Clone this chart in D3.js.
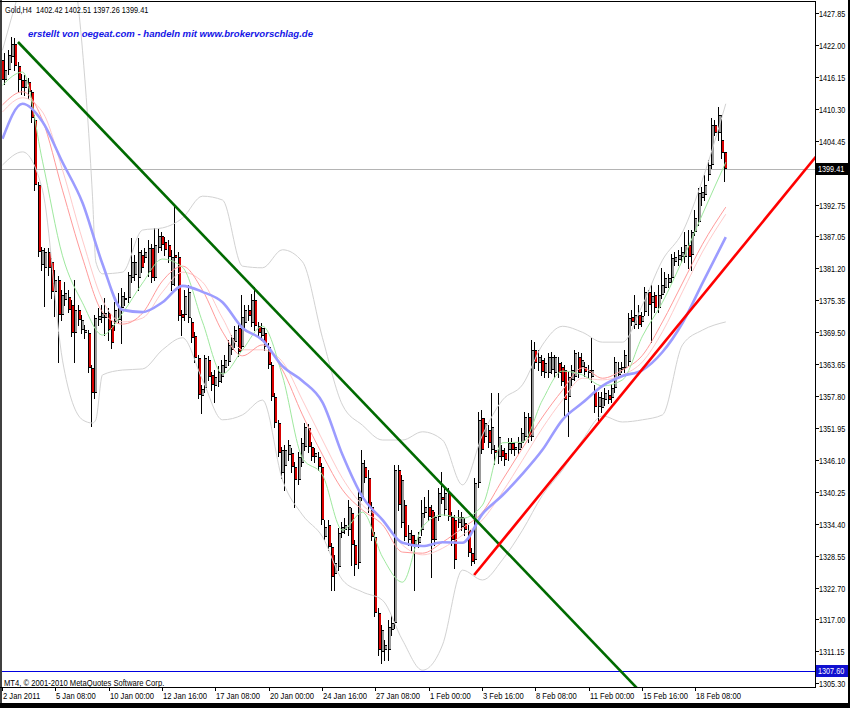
<!DOCTYPE html>
<html><head><meta charset="utf-8">
<script src="https://cdn.jsdelivr.net/npm/d3@7"></script>
<style>body{margin:0;background:#fff;}svg{display:block;}text{white-space:pre;}</style>
</head><body>
<svg id="c" width="850" height="708"></svg>
<script>
// ---------------- DATA (Gold H4, 2 Jan 2011 - 18 Feb 2011) ----------------
const open=[1419.3,1415.7,1417.5,1419.9,1422.2,1418.2,1415.7,1414.2,1415.3,1413.5,
1408.3,1396.4,1381.8,1381.3,1384.2,1382.4,1376.9,1379.1,1372.7,1375.4,
1376.0,1374.5,1369.4,1373.6,1369.9,1369.4,1369.4,1363.0,1358.4,1371.8,
1372.1,1372.1,1373.0,1370.8,1371.4,1371.8,1373.9,1375.4,1375.8,1379.4,
1380.0,1379.4,1383.6,1383.1,1380.5,1384.9,1379.4,1384.9,1387.1,1386.0,
1385.5,1378.2,1383.6,1383.3,1372.9,1372.7,1372.1,1371.4,1368.8,1364.8,
1357.9,1359.3,1364.4,1361.7,1359.7,1360.4,1361.3,1363.0,1364.1,1366.3,
1367.7,1370.3,1366.8,1371.2,1373.6,1371.2,1375.4,1370.6,1368.8,1369.4,
1366.8,1363.5,1357.7,1352.9,1343.8,1345.0,1347.1,1347.4,1344.9,1342.5,
1345.6,1348.5,1352.0,1348.5,1346.7,1346.7,1344.9,1332.0,1334.2,1330.2,
1325.3,1326.6,1332.8,1333.3,1333.3,1336.4,1330.6,1327.3,1339.4,1344.9,
1342.8,1337.5,1332.0,1318.1,1311.0,1311.4,1311.4,1315.0,1316.3,1344.3,
1334.6,1337.9,1331.5,1332.4,1330.6,1331.0,1333.3,1336.4,1337.5,1337.0,
1331.5,1335.7,1339.4,1337.0,1340.1,1335.7,1335.2,1334.6,1333.9,1334.6,
1333.3,1329.1,1327.8,1341.9,1353.8,1350.3,1351.6,1348.0,1348.0,1346.7,
1348.0,1347.4,1348.0,1349.2,1348.0,1348.0,1349.2,1350.4,1354.0,1350.4,
1366.3,1363.9,1364.4,1362.1,1362.1,1362.6,1362.1,1363.9,1363.1,1362.6,
1357.7,1360.8,1361.3,1365.0,1363.1,1363.1,1362.1,1361.3,1358.9,1355.8,
1355.6,1357.1,1358.0,1357.5,1359.3,1361.7,1362.6,1363.0,1364.1,1372.3,
1370.8,1372.7,1371.4,1373.2,1376.9,1374.9,1376.3,1373.9,1376.3,1377.6,
1378.5,1379.4,1382.4,1382.7,1383.3,1383.3,1385.5,1383.6,1387.8,1389.7,
1394.1,1394.6,1398.3,1400.1,1407.4,1406.0,1404.7,1402.42];
const high=[1420.2,1420.6,1421.1,1423.5,1423.3,1418.9,1416.7,1416.6,1416.0,1413.8,
1409.2,1397.0,1385.1,1384.9,1384.9,1383.1,1380.9,1379.8,1377.2,1378.7,
1377.2,1375.4,1379.1,1374.5,1372.7,1370.8,1369.9,1363.5,1372.7,1373.9,
1374.5,1375.8,1373.9,1371.8,1375.0,1376.7,1377.6,1376.9,1380.5,1386.7,
1383.6,1386.7,1384.6,1384.9,1386.4,1385.7,1388.6,1388.6,1387.8,1386.9,
1386.4,1384.6,1392.8,1384.2,1373.6,1377.2,1378.2,1372.1,1369.6,1365.3,
1359.9,1365.3,1365.2,1362.2,1362.6,1363.3,1364.4,1365.3,1368.1,1369.0,
1370.6,1371.4,1376.3,1374.5,1374.5,1376.5,1377.8,1371.4,1371.2,1370.3,
1367.5,1364.1,1358.4,1353.5,1348.5,1348.9,1349.8,1348.3,1345.8,1347.6,
1350.2,1352.9,1352.7,1349.4,1348.3,1347.6,1345.6,1335.2,1335.2,1331.0,
1328.8,1333.7,1334.8,1335.5,1338.8,1337.4,1331.5,1340.7,1348.0,1346.1,
1344.3,1338.4,1332.9,1319.1,1316.0,1313.2,1316.9,1317.8,1345.2,1345.2,
1343.4,1338.8,1334.2,1333.3,1332.4,1332.9,1338.8,1339.4,1340.6,1337.9,
1336.6,1341.0,1343.9,1341.0,1341.0,1336.6,1336.1,1337.0,1336.6,1335.5,
1334.2,1330.0,1342.8,1354.9,1355.3,1353.8,1352.5,1358.4,1348.9,1358.4,
1348.9,1348.3,1350.2,1350.2,1349.4,1350.4,1352.0,1354.9,1354.7,1368.1,
1367.7,1366.3,1365.3,1364.8,1365.7,1365.9,1365.3,1365.0,1364.1,1363.5,
1362.2,1363.5,1366.3,1365.9,1365.7,1364.1,1363.5,1368.5,1359.9,1358.6,
1358.6,1359.3,1358.9,1360.0,1365.0,1364.1,1364.1,1366.3,1373.0,1373.6,
1376.3,1374.5,1373.2,1377.8,1377.2,1378.2,1376.9,1378.2,1381.3,1380.5,
1380.2,1383.8,1384.2,1384.6,1385.1,1387.8,1388.2,1388.2,1391.9,1395.9,
1396.1,1398.3,1401.0,1408.7,1408.3,1410.7,1409.2,1402.51];
const low=[1414.2,1414.9,1416.7,1418.9,1417.5,1413.4,1413.1,1412.9,1412.4,1408.0,
1395.5,1383.5,1380.9,1374.3,1380.0,1375.8,1372.5,1364.1,1371.8,1374.5,
1373.2,1368.8,1364.1,1370.8,1369.4,1368.5,1362.2,1352.4,1357.5,1370.8,
1371.4,1369.0,1368.1,1366.6,1369.9,1371.2,1367.5,1374.5,1375.0,1378.7,
1379.1,1377.2,1380.5,1382.4,1379.8,1378.7,1379.1,1384.2,1384.6,1383.6,
1382.4,1377.2,1378.2,1371.8,1369.0,1371.8,1371.4,1367.7,1364.1,1357.5,
1354.7,1358.6,1360.8,1358.9,1356.8,1359.7,1360.4,1362.2,1363.5,1365.5,
1366.8,1365.2,1366.3,1370.5,1371.8,1370.6,1369.9,1368.7,1368.1,1366.3,
1363.0,1357.1,1352.2,1346.9,1342.9,1340.6,1346.1,1344.0,1337.5,1341.7,
1345.0,1348.0,1347.6,1346.1,1345.8,1344.3,1334.4,1331.5,1329.7,1322.4,
1322.4,1326.0,1332.1,1332.8,1332.4,1326.9,1325.1,1326.4,1338.8,1342.2,
1336.6,1331.5,1317.6,1310.5,1309.0,1309.6,1309.6,1314.1,1315.4,1337.0,
1333.9,1331.5,1330.6,1329.7,1322.4,1330.2,1332.4,1335.7,1335.2,1324.7,
1330.6,1335.2,1338.3,1336.1,1335.2,1330.6,1326.4,1333.9,1333.3,1332.4,
1328.6,1326.9,1327.3,1341.2,1347.4,1349.4,1348.5,1347.4,1345.4,1345.6,
1346.1,1345.2,1346.1,1347.4,1347.1,1347.4,1348.5,1349.8,1349.4,1349.8,
1363.0,1362.6,1361.7,1361.3,1361.3,1362.1,1361.3,1361.3,1359.9,1354.4,
1350.5,1359.9,1360.8,1361.3,1362.2,1361.5,1361.3,1360.4,1354.9,1353.5,
1354.9,1356.2,1356.6,1356.8,1358.6,1361.1,1362.2,1362.2,1363.5,1370.8,
1370.3,1370.3,1370.6,1372.7,1372.7,1367.7,1373.2,1373.2,1375.8,1376.9,
1377.8,1378.7,1381.8,1381.8,1382.4,1382.4,1381.3,1380.9,1387.3,1389.1,
1392.8,1393.7,1397.4,1399.5,1405.6,1404.7,1401.4,1397.26];
const close=[1415.7,1417.5,1420.2,1422.2,1418.2,1415.7,1414.2,1415.7,1413.5,1408.7,
1396.4,1384.2,1384.6,1384.2,1381.3,1376.9,1379.1,1372.7,1376.3,1376.7,
1373.5,1369.4,1373.6,1371.8,1371.8,1369.9,1363.0,1358.4,1372.1,1372.5,
1373.0,1373.0,1369.9,1367.5,1373.6,1374.1,1376.1,1375.8,1380.0,1382.4,
1382.4,1384.2,1381.3,1384.2,1384.9,1379.4,1385.5,1387.1,1385.5,1384.6,
1383.3,1383.3,1383.1,1372.5,1372.1,1376.1,1376.9,1368.5,1364.8,1358.0,
1359.1,1364.8,1361.3,1359.9,1361.3,1362.2,1363.5,1364.4,1367.2,1368.5,
1369.9,1365.9,1372.3,1373.6,1372.5,1375.4,1370.6,1369.4,1370.3,1366.8,
1363.5,1357.7,1352.9,1347.4,1348.0,1348.0,1348.9,1344.9,1342.5,1346.7,
1349.2,1352.2,1348.5,1346.7,1347.4,1344.9,1335.2,1333.9,1330.2,1324.7,
1327.3,1332.8,1333.9,1334.2,1337.5,1330.6,1326.9,1339.4,1345.6,1342.8,
1337.5,1332.0,1318.1,1311.4,1315.0,1312.3,1315.6,1316.3,1344.3,1337.9,
1342.5,1332.0,1332.8,1330.6,1331.5,1332.0,1336.4,1337.5,1335.7,1331.5,
1335.7,1340.1,1338.8,1340.1,1335.7,1331.5,1327.9,1335.7,1335.7,1333.3,
1329.1,1327.5,1341.9,1353.5,1348.0,1352.9,1349.2,1352.2,1347.4,1350.4,
1346.7,1346.1,1349.2,1348.0,1348.5,1349.2,1351.1,1354.0,1350.4,1366.3,
1363.9,1365.0,1362.2,1363.9,1365.0,1365.0,1365.0,1362.1,1360.4,1357.1,
1361.3,1362.6,1365.7,1362.1,1364.4,1362.2,1362.6,1362.6,1355.8,1357.7,
1357.5,1358.4,1357.1,1359.3,1364.1,1363.0,1363.1,1365.3,1372.1,1371.4,
1372.7,1370.8,1372.5,1376.9,1374.5,1376.1,1373.9,1376.3,1378.2,1379.4,
1379.4,1383.1,1383.3,1383.6,1384.2,1385.5,1383.3,1387.8,1390.4,1395.0,
1395.2,1396.4,1400.1,1407.4,1406.0,1409.2,1402.3,1399.41];

// indicator readings (bar index -> value)
const maIdx=[0,6,12,18,24,30,36,42,48,54,60,66,72,78,84,90,96,102,108,114,120,126,132,138,144,150,156,162,168,174,180,186,192,198,204,210,217];
const maFast=[1414.7,1417.1,1400.8,1383.5,1374.9,1369.0,1373.0,1378.5,1382.9,1381.4,1371.4,1361.9,1366.3,1370.6,1361.5,1346.5,1343.4,1333.3,1336.6,1328.4,1323.8,1333.9,1336.1,1335.5,1337.9,1349.3,1349.4,1357.1,1362.4,1361.7,1359.7,1360.8,1368.8,1375.0,1382.7,1391.1,1400.6];
const maMid=[1411.1,1413.5,1408.3,1395.5,1383.1,1373.2,1371.0,1373.0,1378.9,1381.6,1377.2,1369.6,1365.2,1367.2,1362.6,1354.4,1347.1,1340.7,1337.0,1334.3,1329.3,1329.1,1331.1,1333.7,1336.6,1342.5,1348.3,1354.0,1358.9,1363.0,1361.1,1362.6,1365.3,1371.4,1378.5,1385.6,1392.4];
const maMid2=[1409.8,1412.4,1409.8,1399.2,1386.4,1375.4,1371.4,1372.1,1376.9,1380.5,1378.7,1372.1,1366.3,1366.3,1364.1,1357.1,1349.8,1342.8,1337.9,1335.2,1330.6,1328.8,1330.0,1332.4,1335.2,1340.3,1346.1,1352.0,1357.1,1361.1,1360.8,1361.7,1364.1,1369.6,1376.9,1384.2,1391.1];
const maSlow=[1404.9,1411.3,1408.0,1400.6,1393.2,1382.0,1373.6,1373.2,1375.0,1378.0,1376.9,1375.0,1370.3,1368.1,1363.3,1360.6,1356.7,1347.1,1339.4,1335.2,1331.0,1330.4,1331.1,1331.0,1336.3,1339.7,1343.6,1348.0,1353.5,1356.6,1359.7,1361.5,1362.6,1365.9,1371.2,1378.5,1386.9];
const bbIdx=[0,6,12,18,24,27,28,30,36,42,48,54,60,66,72,78,84,90,96,102,108,114,120,126,132,138,144,150,156,162,168,174,180,186,192,198,204,210,217];
const bbUpper=[1421.1,1433.9,1444.9,1443.1,1421.1,1394.4,1382.4,1380.2,1380.5,1388.2,1388.6,1390.4,1394.4,1393.7,1381.6,1381.3,1384.6,1382.4,1368.5,1356.2,1352.5,1349.8,1349.8,1351.3,1349.8,1341.6,1350.7,1357.1,1359.9,1367.2,1370.6,1369.5,1367.7,1367.7,1374.5,1382.7,1387.8,1397.4,1411.3];
const bbLower=[1400.1,1402.5,1395.5,1364.4,1353.5,1352.9,1353.5,1361.7,1362.6,1362.8,1366.3,1368.5,1360.8,1353.5,1354.4,1357.1,1342.5,1336.1,1332.1,1324.2,1322.0,1320.5,1313.2,1307.7,1312.3,1326.0,1324.2,1327.9,1333.3,1339.7,1344.3,1349.8,1354.2,1353.1,1353.5,1354.4,1367.2,1369.9,1371.4];

// trend lines: [barIndex, price] anchors
const trendDown=[[4.65,1422.6],[119.25,1349.67]];
const trendUp=[[141.5,1325.1],[203,1371.0]];

const priceTicks=[1427.85,1422.00,1416.15,1410.30,1404.45,1398.60,1392.75,1387.05,1381.20,1375.35,1369.50,1363.65,1357.80,1351.95,1346.10,1340.25,1334.40,1328.55,1322.70,1317.00,1311.15,1305.30];
const timeIdx=[0,16,32,48,64,80,96,112,128,144,160,176,192,208];
const timeLabels=["2 Jan 2011","5 Jan 08:00","10 Jan 00:00","12 Jan 16:00","17 Jan 08:00","20 Jan 00:00","24 Jan 16:00","27 Jan 08:00","1 Feb 00:00","3 Feb 16:00","8 Feb 08:00","11 Feb 00:00","15 Feb 16:00","18 Feb 08:00"];
const lastPrice=1399.41;
const levelPrice=1307.60;
const header="Gold,H4  1402.42 1402.51 1397.26 1399.41";
const banner="erstellt von oegeat.com - handeln mit www.brokervorschlag.de";
const copyright="MT4, \u00A9 2001-2010 MetaQuotes Software Corp.";

// ---------------- DRAW ----------------
const W=850,H=708;
const P={l:2,t:2,r:815,b:687};
const FONT="'Liberation Sans', Arial, sans-serif";
const svg=d3.select('#c');
svg.append('rect').attr('width',W).attr('height',H).attr('fill','#fff');

const x=d3.scaleLinear().domain([0,16]).range([2.5,55.83]);
const y=d3.scaleLinear().domain([1305.30,1427.85]).range([683.3,13.3]);

svg.append('defs').append('clipPath').attr('id','clip')
  .append('rect').attr('x',P.l).attr('y',P.t).attr('width',P.r-P.l).attr('height',P.b-P.t);
const g=svg.append('g').attr('clip-path','url(#clip)');

// narrow text: horizontally scaled group so the drawn box is the real one
function ntext(parent,tx,ty,str,sx,fill,extra){
  const gg=parent.append('g').attr('transform',`translate(${tx},${ty}) scale(${sx},1)`);
  const t=gg.append('text').attr('x',0).attr('y',0).text(str)
    .attr('font-family',FONT).attr('font-size',9.3).attr('fill',fill);
  if(extra) extra(t);
  return t;
}

// horizontal lines (background)
g.append('line').attr('x1',P.l).attr('x2',P.r).attr('y1',Math.round(y(lastPrice))+0.5).attr('y2',Math.round(y(lastPrice))+0.5)
  .attr('stroke','#b4b4b4').attr('stroke-width',1);
g.append('line').attr('x1',P.l).attr('x2',P.r).attr('y1',Math.round(y(levelPrice))+0.5).attr('y2',Math.round(y(levelPrice))+0.5)
  .attr('stroke','#0000e0').attr('stroke-width',1);

// candles
const bars=d3.range(open.length).map(i=>({i,o:open[i],h:high[i],l:low[i],c:close[i]}));
const cg=g.append('g');
bars.forEach(d=>{
  const left=Math.round(x(d.i)-1.5);
  const top=Math.round(y(Math.max(d.o,d.c)));
  const bot=Math.round(y(Math.min(d.o,d.c)));
  const h=Math.max(1,bot-top);
  const bull=d.c>=d.o;
  cg.append('rect').attr('x',left).attr('y',top).attr('width',3).attr('height',h)
    .attr('fill',bull?'#9a9a9a':'#d80000');
  cg.append('rect').attr('x',left).attr('y',top).attr('width',3).attr('height',1).attr('fill','#000');
  if(h>1) cg.append('rect').attr('x',left).attr('y',top+h-1).attr('width',3).attr('height',1).attr('fill','#000');
  cg.append('line').attr('x1',left+0.5).attr('x2',left+0.5)
    .attr('y1',Math.round(y(d.h))).attr('y2',Math.round(y(d.l))+1)
    .attr('stroke','#000').attr('stroke-width',1);
});

// indicators
function drawLine(idx,vals,color,width){
  const pts=idx.map((k,j)=>[x(k),y(vals[j])]);
  g.append('path').attr('d',d3.line().curve(d3.curveMonotoneX)(pts))
    .attr('fill','none').attr('stroke',color).attr('stroke-width',width);
}
drawLine(bbIdx,bbUpper,'#d2d2d2',1);
drawLine(bbIdx,bbLower,'#d2d2d2',1);
drawLine(maIdx,maMid2,'#ffcaca',1);
drawLine(maIdx,maMid,'#ff9a9a',1);
drawLine(maIdx,maFast,'#9ee89e',1);
drawLine(maIdx,maSlow,'#9c9cff',2.6);

// trend lines (rays)
function ray(a,color){
  const s=(a[1][1]-a[0][1])/(a[1][0]-a[0][0]);
  const far=400;
  g.append('line').attr('x1',x(a[0][0])).attr('y1',y(a[0][1]))
    .attr('x2',x(far)).attr('y2',y(a[0][1]+s*(far-a[0][0])))
    .attr('stroke',color).attr('stroke-width',2.6);
}
ray(trendDown,'#006a00');
ray(trendUp,'#ff0000');

// frame
svg.append('rect').attr('x',0).attr('y',0).attr('width',2).attr('height',703).attr('fill','#404040');
svg.append('line').attr('x1',0).attr('x2',P.r+1).attr('y1',1.5).attr('y2',1.5).attr('stroke','#000');
svg.append('line').attr('x1',P.r+0.5).attr('x2',P.r+0.5).attr('y1',1).attr('y2',P.b+1).attr('stroke','#000');
svg.append('line').attr('x1',0).attr('x2',P.r+1).attr('y1',P.b+0.5).attr('y2',P.b+0.5).attr('stroke','#000');
svg.append('rect').attr('x',848).attr('y',0).attr('width',2).attr('height',H).attr('fill','#000');
svg.append('rect').attr('x',0).attr('y',703).attr('width',W).attr('height',5).attr('fill','#000');

// price axis (the tick hidden behind the last-price box keeps only its mark)
const ax=svg.append('g');
priceTicks.forEach(v=>{
  const yy=Math.round(y(v))+0.5;
  ax.append('line').attr('x1',P.r+1).attr('x2',P.r+4).attr('y1',yy).attr('y2',yy).attr('stroke','#000');
  if(Math.abs(y(v)-y(lastPrice))<10) return;
  ntext(ax,819,y(v)+3.4,v.toFixed(2),0.78,'#000');
});

// price boxes
function box(v,fill){
  const yc=y(v);
  svg.append('rect').attr('x',816).attr('y',Math.round(yc)-6).attr('width',32).attr('height',12).attr('fill',fill);
  ntext(svg,818,yc+3.4,v.toFixed(2),0.78,'#fff');
}
box(lastPrice,'#000');
box(levelPrice,'#1010d0');

// time axis
const tx=svg.append('g');
timeIdx.forEach((k,j)=>{
  const xx=Math.round(x(k)-0.5)+0.5;
  tx.append('line').attr('x1',xx).attr('x2',xx).attr('y1',P.b).attr('y2',P.b+4).attr('stroke','#000');
  ntext(tx,xx+0.5,698.5,timeLabels[j],0.82,'#000');
});

// texts
ntext(svg,5,12.7,header,0.79,'#000');
svg.append('text').attr('x',28).attr('y',37.3).text(banner)
  .attr('font-family',FONT).attr('font-size',9.5).attr('font-weight','bold').attr('font-style','italic')
  .attr('fill','#1414e6').attr('textLength',285).attr('lengthAdjust','spacingAndGlyphs');
ntext(svg,4,685.5,copyright,0.82,'#000');
</script>
</body></html>
